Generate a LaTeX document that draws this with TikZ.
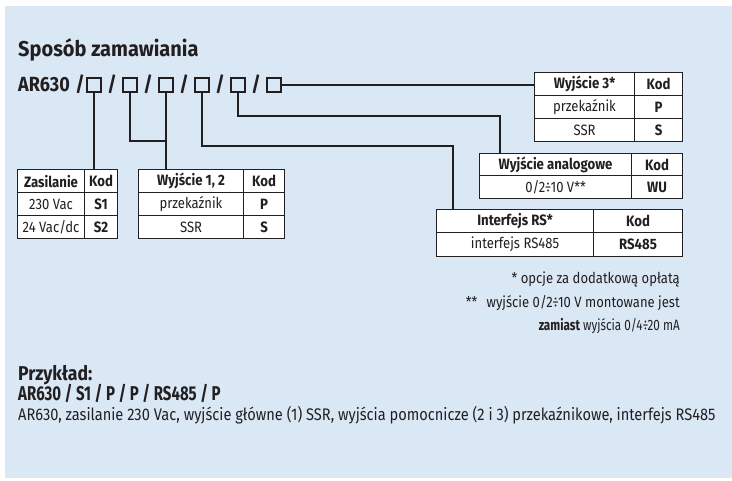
\documentclass[tikz,border=0pt]{standalone}
\usepackage{fontspec}
\setmainfont{Fira Sans}[FakeStretch=0.87, Numbers=Proportional]
\newfontfamily\tfont{Fira Sans}[FakeStretch=0.93, Numbers=Proportional]
\newfontfamily\hfont{Fira Sans}[FakeStretch=0.88, Numbers=Proportional]
\newfontfamily\efont{Fira Sans}[FakeStretch=0.75, Numbers=Proportional]
\newfontfamily\nfont{Fira Sans}[FakeStretch=0.78, Numbers=Proportional]
\definecolor{bg}{RGB}{218,232,246}
\definecolor{ink}{RGB}{35,31,32}
\newcommand\mkcell[6]{\node[cell, minimum width=#4pt, minimum height=#5pt] (#1) at (#2,#3) {#6};}
\newcommand\hb{\hfont\bfseries}
\begin{document}
\begin{tikzpicture}[x=1pt,y=-1pt,
  txt/.style={inner sep=0pt, text=ink},
  big/.style={txt, font=\fontsize{21.5}{24}\tfont\bfseries},
  arf/.style={txt, font=\fontsize{20.5}{24}\hfont\bfseries},
  sq/.style={draw=ink, line width=1.3pt, minimum size=14pt, inner sep=0pt},
  cell/.style={draw=ink, fill=white, line width=1.1pt, inner sep=0pt, anchor=north west, text=ink, font=\fontsize{15}{18}\selectfont},
  conn/.style={draw=ink, line width=1.1pt},
  note/.style={txt, anchor=base east, font=\fontsize{15}{18}\selectfont},
  ex/.style={txt, anchor=base west}]
\useasboundingbox (0,0) rectangle (732,480);
\fill[bg] (5,6) rectangle (732,478);
% title
\node[big, anchor=base west] (title) at (18,56) {Sposób zamawiania};
\node[arf, anchor=base west] (ar) at (18,91) {AR630};
\foreach \i/\x in {1/80,2/112,3/148,4/184,5/220,6/256}{
  \node[arf, anchor=base] (s\i) at (\x,91) {/};
}
\foreach \i/\x in {1/94,2/130,3/166,4/202,5/238,6/274}{
  \node[sq] (b\i) at (\x,85) {};
}
% table 1
\mkcell{t1a}{17}{169}{67}{23}{\hb Zasilanie}
\mkcell{t1k}{84}{169}{33}{23}{\hb Kod}
\mkcell{t1b}{17}{192}{67}{23}{230 Vac}
\mkcell{t1c}{84}{192}{33}{23}{\hb S1}
\mkcell{t1d}{17}{215}{67}{23}{24 Vac/dc}
\mkcell{t1e}{84}{215}{33}{23}{\hb S2}
% table 2
\mkcell{t2a}{138}{169}{105}{23}{\hb Wyjście 1, 2}
\mkcell{t2k}{243}{169}{41}{23}{\hb Kod}
\mkcell{t2b}{138}{192}{105}{23}{przekaźnik}
\mkcell{t2c}{243}{192}{41}{23}{\hb P}
\mkcell{t2d}{138}{215}{105}{23}{SSR}
\mkcell{t2e}{243}{215}{41}{23}{\hb S}
% table 3
\mkcell{t3a}{534}{72}{100}{23}{\hb Wyjście 3*}
\mkcell{t3k}{634}{72}{48}{23}{\hb Kod}
\mkcell{t3b}{534}{95}{100}{23}{przekaźnik}
\mkcell{t3c}{634}{95}{48}{23}{\hb P}
\mkcell{t3d}{534}{118}{100}{23}{SSR}
\mkcell{t3e}{634}{118}{48}{23}{\hb S}
% table 4
\mkcell{t4a}{479}{153}{152}{22}{\hb Wyjście analogowe}
\mkcell{t4k}{631}{153}{51}{22}{\hb Kod}
\mkcell{t4b}{479}{175}{152}{23}{0/2÷10 V**}
\mkcell{t4c}{631}{175}{51}{23}{\hb WU}
% table 5
\mkcell{t5a}{436}{209}{157}{23}{\hb Interfejs RS*}
\mkcell{t5k}{593}{209}{89}{23}{\hb Kod}
\mkcell{t5b}{436}{232}{157}{24}{interfejs RS485}
\mkcell{t5c}{593}{232}{89}{24}{\hb RS485}
% connectors
\coordinate (c2) at (166,141);
\coordinate (c4) at (453,146);
\coordinate (c5) at (500,116);
\draw[conn] (b1.south) -- (b1.south |- t1k.north);
\draw[conn] (b2.south) |- (c2);
\draw[conn] (b3.south) -- (b3.south |- t2a.north);
\draw[conn] (b4.south) |- (c4) -- (c4 |- t5a.north);
\draw[conn] (b5.south) |- (c5) -- (c5 |- t4a.north);
\draw[conn] (b6.east) -- (b6.east -| t3a.west);
% notes
\node[note] (n1) at (680,283) {* opcje za dodatkową opłatą};
\node[note] (n2) at (680,307) {**\hspace{6pt} wyjście 0/2÷10 V montowane jest};
\node[note, font=\fontsize{15}{18}\nfont] (n3) at (680,330) {{\bfseries zamiast} wyjścia 0/4÷20 mA};
% example
\node[ex, font=\fontsize{20}{24}\hfont\bfseries] (e1) at (18,380) {Przykład:};
\node[ex, font=\fontsize{20}{24}\efont\bfseries] (e2) at (18,400) {AR630 / S1 / P / P / RS485 / P};
\node[ex, font=\fontsize{16.8}{20}\selectfont] (e3) at (18,420) {AR630, zasilanie 230 Vac, wyjście główne (1) SSR, wyjścia pomocnicze (2 i 3) przekaźnikowe, interfejs RS485};
\end{tikzpicture}
\end{document}
